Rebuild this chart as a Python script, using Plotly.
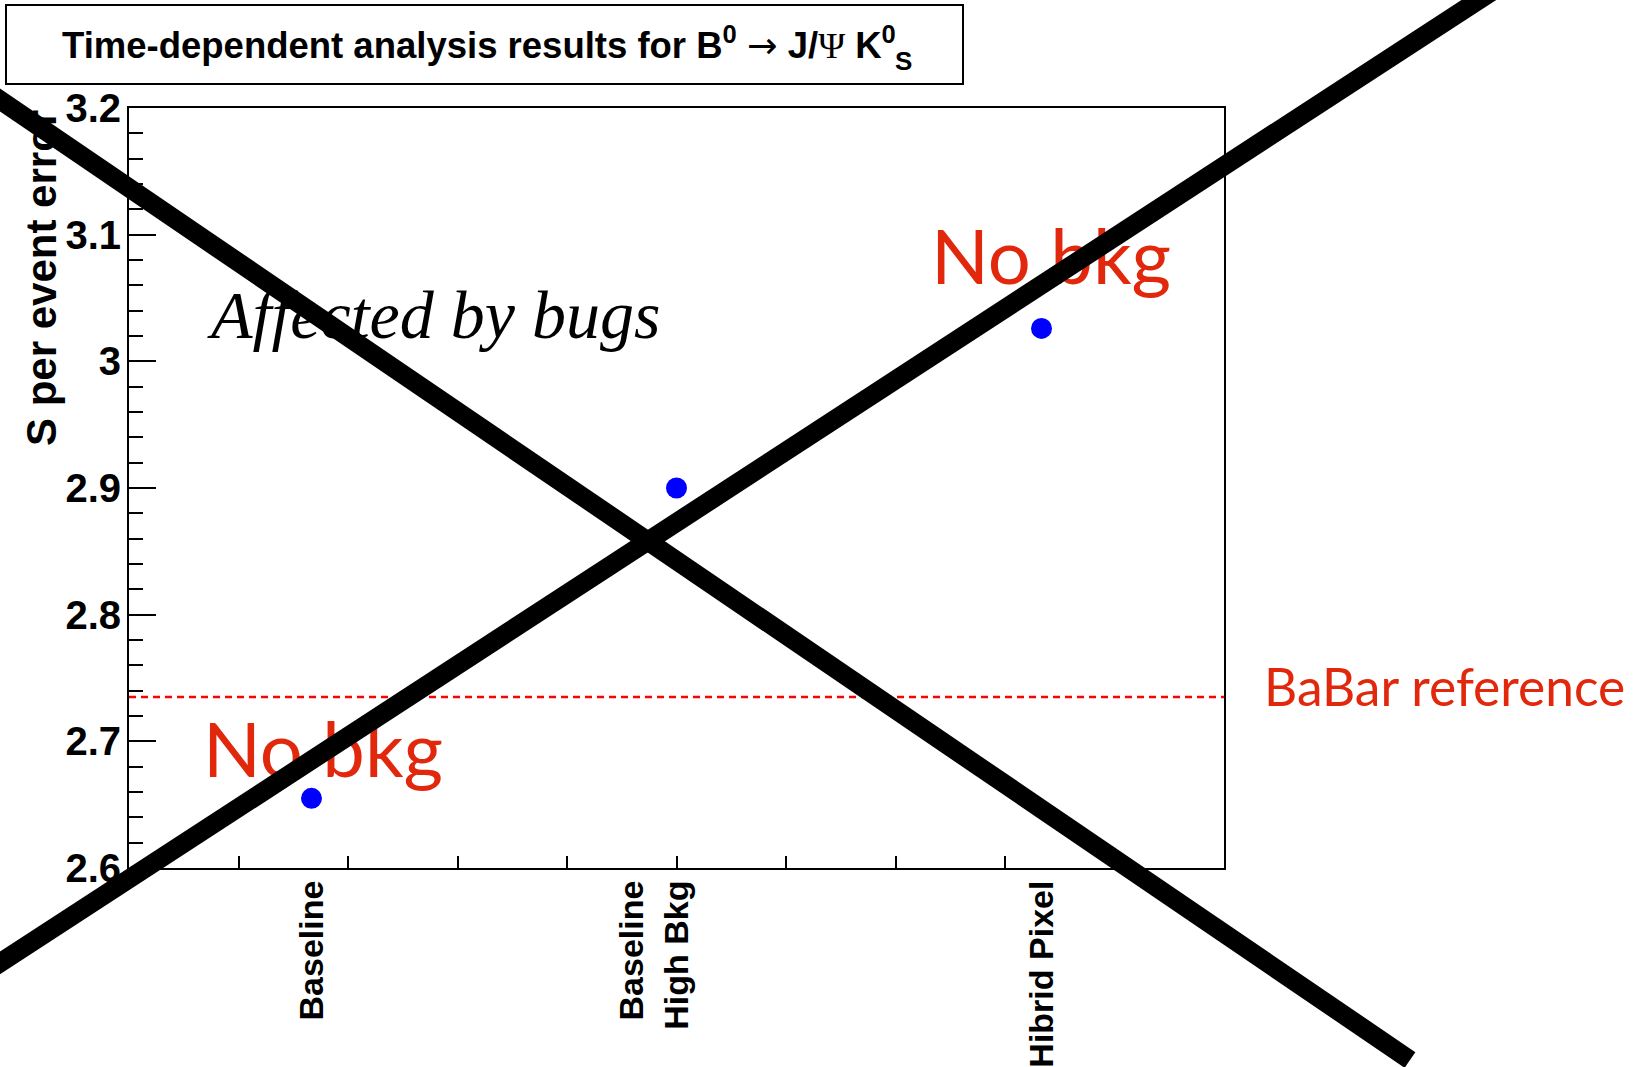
import plotly.graph_objects as go
import numpy as np

# ---- data ----
categories = ["Baseline", "Baseline<br>High Bkg<br> ", "Hibrid Pixel"]
s_per_event_error = [2.655, 2.900, 3.026]
babar_reference = 2.735
y_ticks = [2.6, 2.7, 2.8, 2.9, 3.0, 3.1, 3.2]
y_tick_labels = ["2.6", "2.7", "2.8", "2.9", "3", "3.1", "3.2"]

x_pos = [i + 0.5 for i in range(len(categories))]

W, H = 1647, 1067
L, R, T, B = 129, 1224, 108, 868  # plot area in pixels


def px2paper(px, py):
    return (px - L) / (R - L), (B - py) / (B - T)


RED_TXT = "#E2280C"
BOLD = "Liberation Sans"

fig = go.Figure()

# BaBar reference dashed line
fig.add_trace(go.Scatter(
    x=[0, len(categories)], y=[babar_reference, babar_reference],
    mode="lines", line=dict(color="#ff0000", width=2.5, dash="7px,5px"),
    hoverinfo="skip", showlegend=False))

# data points
fig.add_trace(go.Scatter(
    x=x_pos, y=s_per_event_error, mode="markers",
    marker=dict(color="#0000ff", size=21, line=dict(width=0)),
    showlegend=False))

# red "No bkg" labels (as text traces, so the cross is drawn over them)
fig.add_trace(go.Scatter(
    x=[0.5315, 2.526], y=[2.6868, 3.0760], mode="text",
    text=["No bkg", "No bkg"], textposition="middle center",
    textfont=dict(family="Lato", size=76, color=RED_TXT),
    cliponaxis=False, hoverinfo="skip", showlegend=False))

annotations = []

# Title box text
tx, ty = px2paper(60, 44)
annotations.append(dict(
    x=tx, y=ty, xref="paper", yref="paper", xanchor="left", yanchor="middle",
    showarrow=False,
    text=("Time-dependent analysis results for B<sup>0</sup> "
          "<span style='font-family:DejaVu Sans;font-weight:normal'>\u2192</span> J/"
          "<span style='font-family:Liberation Serif;font-weight:normal'>\u03A8</span>"
          " K<sup>0</sup>"),
    font=dict(family=BOLD, size=36.5, color="black", weight="bold")))
sx, sy = px2paper(893, 61)
annotations.append(dict(
    x=sx, y=sy, xref="paper", yref="paper", xanchor="left", yanchor="middle",
    showarrow=False, text="S",
    font=dict(family=BOLD, size=26, color="black", weight="bold")))

# y-axis title (right-aligned to top of axis, ROOT style)
yx, _ = px2paper(41, 0)
annotations.append(dict(
    x=yx, y=1.0, xref="paper", yref="paper", xanchor="center", yanchor="top",
    showarrow=False, textangle=-90, text="S per event error",
    font=dict(family=BOLD, size=42, color="black", weight="bold")))

# Text labels
annotations.append(dict(
    x=0.8329, y=3.0366, xref="x", yref="y", xanchor="center", yanchor="middle",
    showarrow=False, text="<i>Affected by bugs</i>",
    font=dict(family="Liberation Serif", size=68, color="black")))
bx, _ = px2paper(1262, 0)
annotations.append(dict(
    x=bx, y=2.744, xref="paper", yref="y", xanchor="left", yanchor="middle",
    showarrow=False, text="BaBar reference",
    font=dict(family="Lato", size=51.5, color=RED_TXT)))

# title frame
x0, y0 = px2paper(6, 84)
x1, y1 = px2paper(963, 5)
shapes = [dict(type="rect", xref="paper", yref="paper", x0=x0, y0=y0, x1=x1, y1=y1,
               line=dict(color="black", width=2), fillcolor="rgba(0,0,0,0)", layer="below")]

# Big cross over the figure
cross_lines = [((-40, 72.8), (1410, 1060)),   # descending
               ((-40, 989), (1528, -32))]     # ascending
for (apx, apy), (bpx, bpy) in cross_lines:
    ax0, ay0 = px2paper(apx, apy)
    ax1, ay1 = px2paper(bpx, bpy)
    shapes.append(dict(type="line", xref="paper", yref="paper",
                       x0=ax0, y0=ay0, x1=ax1, y1=ay1,
                       line=dict(color="black", width=19), layer="above"))

fig.update_layout(
    width=W, height=H,
    margin=dict(l=L, r=W - R, t=T, b=H - B, autoexpand=False),
    paper_bgcolor="white", plot_bgcolor="white",
    annotations=annotations, shapes=shapes,
    showlegend=False,
    xaxis=dict(
        range=[0, len(categories)], tickmode="array", tickvals=x_pos, ticktext=categories,
        ticks="", tickangle=-90, ticklabelstandoff=-3,
        tickfont=dict(family=BOLD, size=34, color="black", weight="bold"),
        showline=True, linecolor="black", linewidth=2, mirror=True,
        showgrid=False, zeroline=False,
        minor=dict(tickmode="array", tickvals=list(np.arange(0.3, 2.95, 0.3)),
                   ticks="inside", ticklen=12, tickwidth=1.5, tickcolor="black", showgrid=False),
    ),
    yaxis=dict(
        range=[2.6, 3.2], tickmode="array", tickvals=y_ticks, ticktext=y_tick_labels,
        ticks="inside", ticklen=27, tickwidth=1.5, tickcolor="black", ticklabelstandoff=-2,
        tickfont=dict(family=BOLD, size=40, color="black", weight="bold"),
        showline=True, linecolor="black", linewidth=2, mirror=True,
        showgrid=False, zeroline=False,
        minor=dict(tickmode="linear", tick0=2.6, dtick=0.02,
                   ticks="inside", ticklen=14, tickwidth=1.5, tickcolor="black", showgrid=False),
    ),
)

fig.write_html("out.html")
